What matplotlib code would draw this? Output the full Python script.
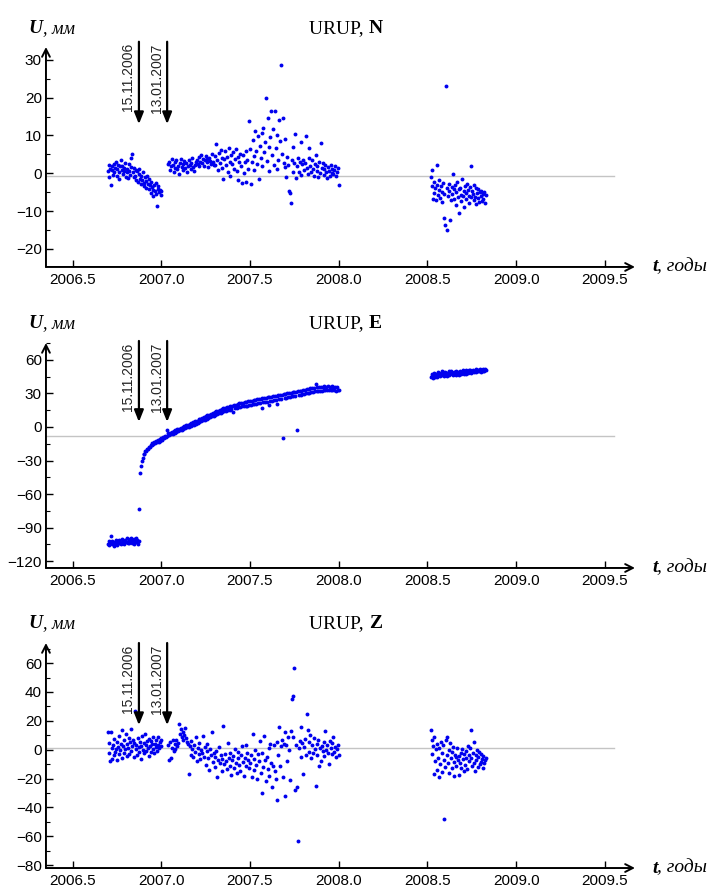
import numpy as np
import matplotlib.pyplot as plt
from matplotlib.ticker import MultipleLocator

plt.rcParams['font.family'] = 'Liberation Sans'

# GPS station URUP, daily-ish solutions (three observation campaigns)
step_a = 0.004   # sampling step, first and last campaign (years)
step_b = 0.005   # sampling step, main campaign (years)

seg1_start = 2006.70
seg2_start = 2007.04
seg3_start = 2008.52

# ---- N component, mm
n_seg1 = [0.5, -1.0, 2.1, 1.2, -3.2, 0.8, 1.9, -0.5, 2.5, 0.2, 1.5, 3.1, -0.8, 1.0, 2.2, 0.4, -1.5, 1.8, 3.6, 0.9,
          2.0, -0.2, 1.3, 0.6, 2.8, -0.9, 1.1, 0.3, -1.2, 2.4, 0.7, -0.4, 1.6, 4.1, 5.2, 0.2, -1.0, 1.4, -0.6, 0.9,
          -1.8, 0.5, -2.2, -0.3, 1.0, -1.5, -2.8, -0.7, -1.9, 0.4, -2.5, -3.4, -1.1, -2.0, -3.8, -0.8, -2.9, -4.2, -1.6, -3.1,
          -5.3, -2.4, -3.6, -4.5, -6.0, -3.0, -4.8, -2.7, -5.5, -8.7, -4.1, -3.5, -5.0, -4.4, -5.8, -4.6]
n_seg2 = [2.5, 3.1, 0.8, 1.9, 3.8, 2.2, 0.4, 1.5, 2.9, 3.4, 1.1, 2.0, -0.3, 2.6, 3.9, 1.7, 0.9, 2.4, 3.2, 1.3,
          2.8, 0.2, 1.8, 3.5, 2.1, 1.0, 2.7, 4.0, 1.6, 0.6, 2.3, 3.0,
          3.6, 2.4, 4.2, 1.9, 3.1, 4.8, 2.7, 3.9, 2.0, 3.4, 4.5, 2.9, 3.7, 1.6, 4.1, 3.3, 2.5, 5.0, 3.0, 2.2,
          4.6, 2.1, 7.8, 3.4, 0.9, 5.3, 2.8, 6.1, 1.5, 4.0, -1.6, 3.7, 5.9, 2.2, 4.4, 0.3, 6.6, 3.0, -0.8, 4.9,
          2.5, 5.6, 1.2, 3.9, 6.3, 0.6, 4.2, -1.9, 3.1, 5.1, 1.8, -2.6, 4.7, 0.1, 2.9, 6.0, -2.3, 3.5, 1.0, 13.7,
          6.4, -2.8, 3.0, 8.9, 4.6, 0.8, 11.2, 6.0, 2.4, 9.8, -1.5, 7.3, 4.1, 10.6, 1.9, 12.0, 5.5, 8.2, 20.0, 3.3,
          14.5, 7.0, 0.5, 9.5, 16.4, 4.8, 11.8, 2.1, 16.4, 6.7, 1.2, 10.2, 3.6, 14.0, 8.5, 28.7, 5.2, 14.6, 2.8, 9.1,
          1.6, -0.9, 4.3, 2.2, -4.8, -5.2, -8.0, 3.5, 0.4, 7.0, 2.7, 10.5, -1.2, 1.8, 4.0, 0.2, 3.1, -0.5, 8.2, 2.5,
          3.4, 0.8, 2.6, 9.9, 1.5, -0.2, 4.1, 6.6, 2.0, 0.3, 3.6, 1.1, -0.6, 2.4, 4.8, 0.5, 1.9, -0.9, 3.0, 0.0,
          8.0, 1.4, 2.7, -0.4, 1.0, 2.1, 0.2, -1.2, 1.6, 0.7, -0.8, 2.2, 0.1, 1.2, -0.3, 0.9, 1.8, -0.7, 0.4, 1.5,
          -3.0]
n_seg3 = [-1.0, 0.8, -3.5, -6.8, -2.2, -5.1, -4.0, -7.2, -3.0, 2.3, -5.8, -4.4, -1.8, -6.5, -3.3, -7.6, -4.9, -2.6, -11.8, -5.4,
          -13.8, 23.2, -3.9, -14.9, -6.1, -2.8, -4.6, -12.3, -7.0, -3.6, -5.5, -0.2, -4.1, -6.7, -3.1, -8.4, -5.0, -2.4, -6.3, -4.3,
          -10.5, -3.8, -7.4, -5.7, -1.6, -6.0, -4.7, -8.9, -3.4, -5.2, -6.9, -2.9, -4.5, -7.8, -5.9, -3.7, -6.4, 1.8, -4.8, -5.6,
          -7.1, -3.2, -6.2, -4.0, -8.2, -5.3, -6.6, -4.2, -7.5, -5.0, -6.0, -4.6, -7.3, -5.4, -6.8, -4.9, -8.0, -5.7]

# ---- E component, mm
e_seg1 = [-104.5, -102.0, -106.0, -103.2, -97.5, -105.1, -101.8, -104.0, -106.3, -102.6, -104.8, -100.9, -103.5, -105.6,
          -102.3, -104.2, -101.0, -103.8, -105.0, -102.5, -100.4, -103.9, -102.0, -104.6, -101.5, -103.0, -99.8, -102.8,
          -104.1, -101.2, -103.4, -100.6, -102.2, -99.5, -103.6, -101.0, -104.4, -100.2, -102.7, -99.3, -103.1, -101.4,
          -104.9, -102.0]
e_jump_t = [2006.875]
e_jump = [-73.0]
e_seg2_start = 2006.88
e_seg2 = [-41.0, -34.5, -30.2, -27.8, -24.6, -23.9, -21.5, -21.8, -19.4, -19.6, -17.5, -18.1, -16.0, -16.4, -14.6, -15.3, -13.5, -14.2, -12.6, -13.4,
          -11.6, -13.5, -11.0, -12.7, -10.2, -11.3, -8.6, -10.2, -7.7, -9.0, -2.5, -8.0, -5.7, -7.4, -5.0, -6.6, -4.2, -6.0, -3.6, -5.3,
          -3.0, -4.6, -2.1, -3.8, -1.5, -3.1, -0.6, -2.4, 0.0, -1.6, 1.0, -0.8, 1.6, -0.3, 2.1, 0.4, 3.0, 1.1, 3.6, 1.7,
          4.2, 2.1, 5.3, 3.1, 5.8, 3.7, 6.8, 4.5, 7.3, 5.2, 8.4, 5.9, 8.8, 6.5, 9.4, 7.1, 10.3, 7.9, 10.9, 8.7,
          11.9, 9.4, 12.5, 10.1, 13.6, 10.7, 14.0, 11.6, 14.7, 12.1, 15.5, 12.7, 16.1, 13.4, 16.6, 13.9, 17.1, 14.4, 17.7, 14.8,
          17.9, 15.1, 18.6, 15.7, 19.1, 13.5, 19.7, 16.6, 20.1, 17.3, 20.8, 17.5, 21.3, 18.1, 21.5, 18.4, 21.9, 18.7, 22.2, 19.0,
          22.5, 18.9, 23.0, 19.6, 23.5, 19.9, 23.7, 20.4, 24.1, 20.8, 24.5, 20.9, 24.8, 21.3, 25.1, 21.6, 25.5, 17.0, 25.6, 22.2,
          25.9, 22.3, 26.2, 22.6, 26.5, 19.5, 26.9, 23.4, 27.2, 23.7, 27.5, 23.9, 27.8, 24.2, 28.0, 20.8, 28.4, 24.7, 28.7, 25.0,
          28.9, -10.0, 29.2, 25.7, 29.6, 26.1, 30.0, 26.5, 30.3, 26.9, 30.7, 27.3, 31.1, 27.6, 31.4, 27.9, 31.7, -3.0, 31.9, 28.5,
          32.3, 28.8, 32.5, 29.2, 32.9, 29.6, 33.3, 30.0, 33.7, 30.4, 34.1, 30.8, 34.5, 31.2, 34.8, 31.5, 35.1, 31.8, 38.5, 32.0,
          35.5, 32.1, 35.7, 32.5, 36.0, 32.6, 35.9, 32.8, 36.3, 32.7, 36.1, 33.1, 36.4, 32.9, 36.2, 33.3, 36.5, 33.0, 36.0, 33.5,
          35.7, 32.3, 35.4, 32.8, 33.0]
e_seg3 = [44.5, 47.2, 45.8, 43.9, 46.6, 48.0, 45.1, 47.5, 44.8, 46.9, 49.5, 46.2, 48.4, 45.6, 47.8, 50.2, 46.4, 48.8, 45.9, 47.1,
          49.0, 46.8, 48.3, 45.4, 47.7, 49.8, 46.5, 48.1, 50.4, 47.0, 48.6, 46.3, 49.2, 47.4, 48.9, 46.7, 50.0, 47.9, 49.4, 46.9,
          48.5, 50.3, 47.6, 49.1, 48.2, 50.6, 47.3, 49.6, 48.7, 51.0, 47.8, 49.9, 48.4, 50.8, 49.3, 51.2, 48.0, 50.1, 49.5, 51.4,
          48.9, 50.5, 49.7, 51.6, 49.0, 50.9, 49.8, 51.1, 50.2, 52.0, 49.4, 50.7, 51.3, 50.0, 51.8, 50.4, 51.5, 50.6]

# ---- Z component, mm
z_seg1 = [12.0, -2.5, 4.8, -8.0, 12.5, 1.2, -6.6, 3.5, -4.0, 7.2, -1.5, 0.8, -7.5, 5.6, 2.0, -3.2, 9.4, -0.4, 4.1, -5.8,
          13.8, 2.7, -2.0, 6.5, 0.3, 10.9, -4.6, 3.9, 1.5, 7.8, -2.8, 5.0, 14.5, -1.0, 2.5, 6.9, -5.2, 4.4, 27.0, 0.6,
          3.2, -3.8, 8.1, 1.9, -1.8, 5.3, -6.2, 2.8, 9.7, 0.0, 4.6, -2.3, 11.2, 3.0, -0.9, 6.1, 1.0, -4.2, 7.4, 2.2,
          -1.4, 5.8, 3.6, 0.4, 8.6, -2.6, 4.0, 6.7, 1.7, -0.6, 9.0, 3.3, 0.9, 5.2, 2.4, 7.0]
z_seg2 = [3.0, -7.5, 5.2, -5.8, 1.0, 6.5, -1.2, 3.8, 0.4, 7.0, 2.5, 4.6,
          17.5, 11.0, 14.2, 9.0, 12.5, 6.8, 10.3, 15.0, 8.0, 5.5,
          4.0, -17.0, 2.5, -3.5, 6.0, 0.8, -5.2, 3.3, -1.5, 8.8, -8.0, 1.2, -3.0, 4.5, -6.5, 0.0, -2.2, 9.4, -4.8, 2.0,
          -10.5, -1.0, 3.6, -6.0, -14.0, 0.5, -3.8, 12.0, -8.8, -2.5,
          -5.0, -12.0, -1.0, -19.0, -7.5, 2.0, -9.5, -4.0, -15.0, -6.5, 16.5, -10.0, -3.0, -8.0, -13.5, 4.5, -6.0, -11.0, -2.0, -17.5,
          -7.0, -4.5, -12.5, 0.5, -9.0, -16.0, -5.5, -1.5, -10.5, -14.5, -3.5, 2.8, -8.5, -18.0, -6.0, -11.5, 3.5, -2.5, -7.0, -13.0,
          -9.5, -4.0, -19.0, 11.0, -6.5, -14.0, 0.0, -10.5, -20.0, -3.0, -8.0, 6.0, -16.5, -30.0, -2.0, -12.0, 9.5, -7.0, -22.0, -5.0,
          -13.5, 1.5, -18.5, 4.0, -9.0, -26.0, -11.0, 3.0, -15.0, -20.5,
          -35.0, 5.0, -4.0, 16.0, -11.0, 2.5, 7.0, -19.0, 4.0, -32.0, 12.0, 3.0, -8.0, 8.5, 0.0, -21.0, 13.0, 35.0, 9.0, 37.0,
          56.5, -28.0, 3.5, -26.0, -63.0, 1.0, 6.0, -5.0, 16.0, 4.5,
          -17.0, 2.0, 7.5, -4.0, 24.5, 13.5, -1.5, 5.5, 10.0, -6.0, 3.0, -2.5, 8.0, 0.5, -25.0, 4.0, -3.5, 6.5, -11.0, 1.5,
          -8.0, 2.5, -1.0, 5.0, -4.5, 13.0, 0.0, 3.5, -2.0, -10.0, 6.0, 1.0, -3.0, 4.5, 8.5, -1.5, 2.0, -5.0, 0.5, 3.0,
          -3.5]
z_seg3 = [13.5, 7.0, -3.0, 2.5, -17.0, 9.0, -8.0, 0.5, -14.0, 4.0, -5.5, -19.0, 1.0, -10.0, 5.5, -2.0, -15.5, 3.0, -7.0, -48.0,
          -12.0, 6.5, -4.0, 8.5, -9.5, 0.0, -16.0, 4.5, -6.0, -1.5, -13.0, 2.0, -8.5, -18.0, -3.5, -5.0, -11.0, 1.5, -7.5, -17.5,
          -4.5, -9.0, -2.5, -12.5, 0.5, -6.5, -15.0, -3.0, -10.5, -1.0, -5.5, -13.5, 2.5, -8.0, -4.0, 1.0, 13.5, -6.0, -11.5, -2.0,
          5.0, -9.5, -14.5, -3.5, -7.0, 0.0, -12.0, -5.0, -1.5, -10.0, -8.5, -3.0, -6.5, -13.0, -4.5, -9.0, -7.5, -5.5]

# reference (mean) levels drawn as grey lines
levels = [-0.7, -8.1, 1.5]

# events marked with arrows
event_t = [2006.874, 2007.033]
event_labels = ['15.11.2006', '13.01.2007']

components = ['N', 'E', 'Z']
x_ticks = [2006.5, 2007.0, 2007.5, 2008.0, 2008.5, 2009.0, 2009.5]


def times(start, step, values):
    return start + step * np.arange(len(values))


series = {
    'N': [(times(seg1_start, step_a, n_seg1), n_seg1),
          (times(seg2_start, step_b, n_seg2), n_seg2),
          (times(seg3_start, step_a, n_seg3), n_seg3)],
    'E': [(times(seg1_start, step_a, e_seg1), e_seg1),
          (np.array(e_jump_t), e_jump),
          (times(e_seg2_start, step_b, e_seg2), e_seg2),
          (times(seg3_start, step_a, e_seg3), e_seg3)],
    'Z': [(times(seg1_start, step_a, z_seg1), z_seg1),
          (times(seg2_start, step_b, z_seg2), z_seg2),
          (times(seg3_start, step_a, z_seg3), z_seg3)],
}

# axis setup per panel: ylim, major step, minor step, arrow top, arrow tip
panel_cfg = {
    'N': dict(ylim=(-24.8, 33.4), major=10, minor=5, top=34.8, tip=13.0),
    'E': dict(ylim=(-126.2, 75.2), major=30, minor=15, top=77.0, tip=4.5),
    'Z': dict(ylim=(-82.0, 73.9), major=20, minor=10, top=73.9, tip=17.0),
}
bottoms = [0.6997, 0.3611, 0.0236]
xlim = (2006.35, 2009.67)

fig = plt.figure(figsize=(7.16, 8.89), dpi=100)

for comp, level, bottom in zip(components, levels, bottoms):
    cfg = panel_cfg[comp]
    ax = fig.add_axes([0.0642, bottom, 0.8226, 0.2531 if comp != 'N' else 0.2474])
    ax.set_xlim(*xlim)
    ax.set_ylim(*cfg['ylim'])
    for s in ax.spines.values():
        s.set_visible(False)

    # axis lines with open arrow heads
    arrow_kw = dict(arrowstyle='->,head_length=0.55,head_width=0.28', lw=1.4, color='black',
                    shrinkA=0, shrinkB=0)
    ax.annotate('', xy=(0, 1), xytext=(0, 0), xycoords='axes fraction', arrowprops=arrow_kw)
    ax.annotate('', xy=(1, 0), xytext=(0, 0), xycoords='axes fraction', arrowprops=arrow_kw)

    # grey reference line
    ax.plot([xlim[0], 2009.55], [level, level], color='#c4c4c4', lw=1.0, zorder=1)

    for t, u in series[comp]:
        ax.plot(t, u, 'o', ms=2.8, color='#0000ee', mec='none', zorder=3)

    ax.set_xticks(x_ticks)
    ax.set_xticklabels([f'{v:.1f}' for v in x_ticks])
    ax.yaxis.set_major_locator(MultipleLocator(cfg['major']))
    ax.yaxis.set_minor_locator(MultipleLocator(cfg['minor']))
    ax.tick_params(axis='both', which='major', direction='in', length=5, width=1.0,
                   labelsize=11, pad=3)
    ax.tick_params(axis='y', which='minor', direction='in', length=3, width=0.8)
    ax.tick_params(axis='x', pad=4)

    # event arrows
    for et, lab in zip(event_t, event_labels):
        ax.annotate('', xy=(et, cfg['tip']), xytext=(et, cfg['top']),
                    arrowprops=dict(arrowstyle='-|>,head_length=0.7,head_width=0.28', lw=1.6,
                                    color='black', shrinkA=0, shrinkB=0),
                    annotation_clip=False)
        ax.annotate(lab, xy=(et, cfg['top']), xytext=(-2.5, -1), textcoords='offset points',
                    rotation=90, ha='right', va='top', fontsize=10, color='#222222',
                    annotation_clip=False)

    # title: "URUP, " + bold component
    t1 = ax.text(0.447, 1.085, 'URUP, ', transform=ax.transAxes, ha='left', va='center',
                 family='Liberation Serif', fontsize=14)
    ax.annotate(comp, xy=(1, 0), xycoords=t1, ha='left', va='bottom',
                family='Liberation Serif', fontsize=14, fontweight='bold')

    # y axis label "U, мм"
    u1 = ax.text(-0.029, 1.085, 'U', transform=ax.transAxes, ha='left', va='center',
                 family='Liberation Serif', fontsize=14, fontweight='bold', style='italic')
    ax.annotate(', мм', xy=(1, 0), xycoords=u1, ha='left', va='bottom',
                family='Liberation Serif', fontsize=13, style='italic')

    # x axis label "t, годы"
    x1 = ax.text(1.029, 0.0, 't', transform=ax.transAxes, ha='left', va='center',
                 family='Liberation Serif', fontsize=14, fontweight='bold', style='italic')
    ax.annotate(', годы', xy=(1, 0), xycoords=x1, ha='left', va='bottom',
                family='Liberation Serif', fontsize=14, style='italic')

fig.savefig('out.png', dpi=100)
